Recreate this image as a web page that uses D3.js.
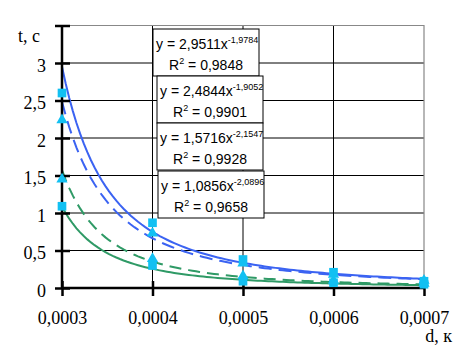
<!DOCTYPE html>
<html><head><meta charset="utf-8">
<script src="https://cdn.jsdelivr.net/npm/d3@7"></script>
<style>body{margin:0;background:#fff}svg{display:block}</style>
</head><body>
<svg id="c" width="462" height="356"></svg>
<script>
// categories (d, к)
const dValues = [0.0003, 0.0004, 0.0005, 0.0006, 0.0007];
const xTickLabels = ["0,0003", "0,0004", "0,0005", "0,0006", "0,0007"];
const yTicks = [0, 0.5, 1, 1.5, 2, 2.5, 3, 3.5];
const yTickLabels = ["0", "0,5", "1", "1,5", "2", "2,5", "3", ""];
// measured series (t, c)
const series1 = [2.60, 0.87, 0.38, 0.21, 0.09];   // squares
const series2 = [2.24, 0.73, 0.33, 0.18, 0.10];   // triangles
const series3 = [1.45, 0.39, 0.16, 0.10, 0.06];   // triangles
const series4 = [1.09, 0.30, 0.09, 0.07, 0.05];   // squares
const seriesShapes = ["square", "triangle", "triangle", "square"];
// power trendlines y = a * n^b (n = point index 1..5), as printed on chart
const trendA = [2.9511, 2.4844, 1.5716, 1.0856];
const trendB = [-1.9784, -1.9052, -2.1547, -2.0896];
const trendR2 = ["0,9848", "0,9901", "0,9928", "0,9658"];
const trendAText = ["2,9511", "2,4844", "1,5716", "1,0856"];
const trendBText = ["-1,9784", "-1,9052", "-2,1547", "-2,0896"];

const svg = d3.select("#c");
const x = d3.scaleLinear().domain([0.0003, 0.0007]).range([62, 424]);
const y = d3.scaleLinear().domain([0, 3.5]).range([288, 25.5]);
const idx = d3.scaleLinear().domain([1, 5]).range([0.0003, 0.0007]);

// gridlines
svg.append("g").selectAll("line").data(yTicks.filter(v => v > 0 && v < 3.5)).join("line")
  .attr("x1", x(0.0003)).attr("x2", x(0.0007)).attr("y1", d => y(d)).attr("y2", d => y(d))
  .attr("stroke", "#000").attr("stroke-width", 1);
svg.append("g").selectAll("line").data(dValues.slice(1, 4)).join("line")
  .attr("x1", d => x(d)).attr("x2", d => x(d)).attr("y1", y(0)).attr("y2", y(3.5))
  .attr("stroke", "#000").attr("stroke-width", 1);
// frame top/right
svg.append("path").attr("d", `M${x(0.0003)},${y(3.5)}H${x(0.0007)}V${y(0)}`)
  .attr("fill", "none").attr("stroke", "#888").attr("stroke-width", 1.2);

// trendlines
const trendColors = ["#3b63f2", "#3b63f2", "#2f9a66", "#2f9a66"];
const trendDash = [null, "13,7", "12,7", null];
const ns = d3.range(1, 5.0001, 0.04);
const line = d3.line().x(d => x(idx(d[0]))).y(d => y(d[1])).curve(d3.curveLinear);
trendA.forEach((a, i) => {
  const pts = ns.map(n => [n, a * Math.pow(n, trendB[i])]);
  svg.append("path").datum(pts).attr("d", line).attr("fill", "none")
    .attr("stroke", trendColors[i]).attr("stroke-width", 2)
    .attr("stroke-dasharray", trendDash[i]);
});

// axes
const yAxis = d3.axisLeft(y).tickValues(yTicks).tickSize(8).tickFormat((d, i) => yTickLabels[i]);
const gy = svg.append("g").attr("transform", `translate(${x(0.0003)},0)`).call(yAxis);
gy.select(".domain").attr("stroke", "#000").attr("stroke-width", 2.5).attr("d", `M0,${y(3.5)}V${y(0)}`);
gy.selectAll(".tick line").attr("x1", -7).attr("x2", 8).attr("stroke-width", 2.5);
gy.selectAll(".tick text").attr("x", -16).attr("dy", null).attr("dominant-baseline", null)
  .attr("y", 8).attr("font-family", "'Liberation Serif', 'Times New Roman', serif").attr("font-size", 18).attr("fill", "#000");

const xAxis = d3.axisBottom(x).tickValues(dValues).tickSize(8).tickFormat((d, i) => xTickLabels[i]);
const gx = svg.append("g").attr("transform", `translate(0,${y(0)})`).call(xAxis);
gx.select(".domain").attr("stroke", "#000").attr("stroke-width", 2.5).attr("d", `M${x(0.0003)},0H${x(0.0007)}`);
gx.selectAll(".tick line").attr("y1", -7).attr("y2", 8).attr("stroke-width", 2.5);
gx.selectAll(".tick text").attr("y", 36).attr("dy", null)
  .attr("font-family", "'Liberation Serif', 'Times New Roman', serif").attr("font-size", 18).attr("fill", "#000");

// axis titles
svg.append("text").attr("x", 18).attr("y", 42).text("t, c")
  .attr("font-family", "'Liberation Serif', serif").attr("font-size", 18);
svg.append("text").attr("x", 452).attr("y", 342).attr("text-anchor", "end").text("d, к")
  .attr("font-family", "'Liberation Serif', serif").attr("font-size", 18);

// markers
const markerColor = "#12c0f2";
const sym = { square: d3.symbol().type(d3.symbolSquare).size(75), triangle: d3.symbol().type(d3.symbolTriangle).size(55) };
[series1, series2, series3, series4].forEach((s, i) => {
  svg.append("g").selectAll("path").data(s).join("path")
    .attr("transform", (d, j) => `translate(${x(dValues[j])},${y(d)})`)
    .attr("d", sym[seriesShapes[i]]()).attr("fill", markerColor);
});

// equation boxes
const boxes = [[153, 29], [157, 76], [157, 123], [158, 171]];
boxes.forEach((b, i) => {
  const g = svg.append("g").attr("transform", `translate(${b[0]},${b[1]})`);
  g.append("rect").attr("x", 0).attr("y", 0).attr("width", 106).attr("height", 47)
    .attr("fill", "#fff").attr("stroke", "#000").attr("stroke-width", 1);
  const t1 = g.append("text").attr("x", 3).attr("y", 20)
    .attr("font-family", "'Liberation Sans', Arial, sans-serif").attr("font-size", 14).attr("fill", "#000");
  t1.append("tspan").text(`y = ${trendAText[i]}x`);
  t1.append("tspan").attr("dy", -6).attr("font-size", 9).text(trendBText[i]);
  const t2 = g.append("text").attr("x", 53).attr("y", 41).attr("text-anchor", "middle")
    .attr("font-family", "'Liberation Sans', Arial, sans-serif").attr("font-size", 14).attr("fill", "#000");
  t2.append("tspan").text("R");
  t2.append("tspan").attr("dy", -6).attr("font-size", 9).text("2");
  t2.append("tspan").attr("dy", 6).text(` = ${trendR2[i]}`);
});
</script>
</body></html>
